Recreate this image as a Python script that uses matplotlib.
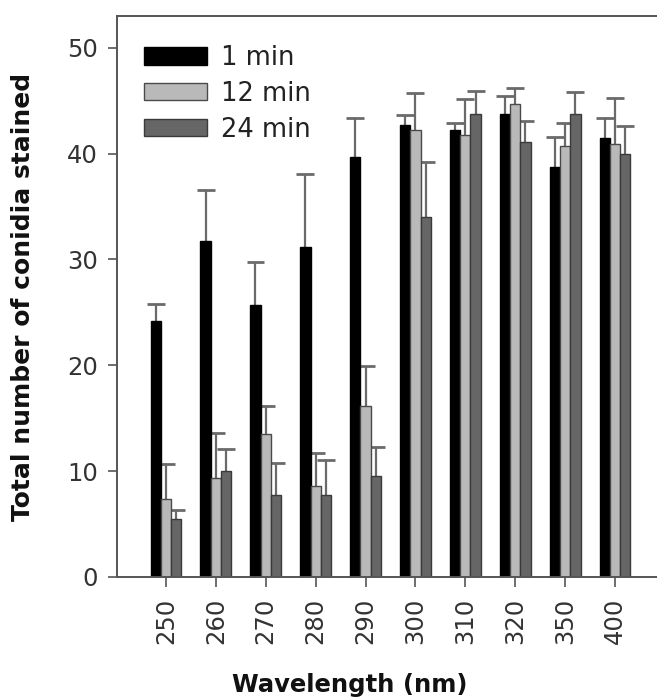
import matplotlib
matplotlib.use("Agg")
import matplotlib.pyplot as plt
import numpy as np

wavelengths = ["250", "260", "270", "280", "290", "300", "310", "320", "350", "400"]
series_names = ["1 min", "12 min", "24 min"]
min1 = [24.2, 31.7, 25.7, 31.2, 39.7, 42.7, 42.2, 43.7, 38.7, 41.5]
min1_err = [1.6, 4.9, 4.1, 6.9, 3.7, 0.9, 0.7, 1.7, 2.9, 1.9]
min12 = [7.4, 9.4, 13.5, 8.6, 16.2, 42.2, 41.8, 44.7, 40.7, 40.9]
min12_err = [3.3, 4.2, 2.7, 3.1, 3.7, 3.5, 3.4, 1.5, 2.2, 4.4]
min24 = [5.5, 10.0, 7.75, 7.75, 9.5, 34.0, 43.7, 41.1, 43.7, 40.0]
min24_err = [0.8, 2.1, 3.05, 3.35, 2.8, 5.2, 2.2, 2.0, 2.1, 2.6]

fig = plt.figure(figsize=(6.57, 7.0), dpi=100)
ax = fig.add_axes([117/657, 1-577/700, 1-117/657, (577-16)/700])

x = np.arange(len(wavelengths))
w = 0.205
cap = 0.36
face = ["#000000", "#b9b9b9", "#666666"]
edge = ["#000000", "#4a4a4a", "#3a3a3a"]
vals = [min1, min12, min24]
errs = [min1_err, min12_err, min24_err]
for i, (v, e) in enumerate(zip(vals, errs)):
    pos = x + (i - 1) * w
    v = np.array(v)
    e = np.array(e)
    ax.bar(pos, v, width=w, color=face[i], edgecolor=edge[i], linewidth=1.0,
           label=series_names[i], zorder=2)
    ax.vlines(pos, v, v + e, colors="#6a6a6a", linewidth=1.6, zorder=1)
    ax.hlines(v + e, pos - cap / 2, pos + cap / 2, colors="#6a6a6a",
              linewidth=2.0, zorder=1)

ax.set_xlim(-0.98, 9.84)
ax.set_ylim(0, 53)
ax.set_yticks([0, 10, 20, 30, 40, 50])
ax.set_xticks(x)
ax.set_xticklabels(wavelengths, rotation=90)

for s in ["left", "top", "bottom"]:
    ax.spines[s].set_color("#555555")
    ax.spines[s].set_linewidth(1.4)
ax.spines["right"].set_visible(False)
ax.tick_params(axis="both", colors="#555555", labelcolor="#333333", labelsize=17.5,
               width=1.2, direction="out")
ax.tick_params(axis="x", length=7, pad=8)
ax.tick_params(axis="y", length=6.5, pad=7)

ax.set_ylabel("Total number of conidia stained", fontsize=18, fontweight="bold",
              color="#111111")
ax.yaxis.set_label_coords(-(117 - 23) / 540, 0.5, transform=ax.transAxes)
ax.yaxis.label.set_va("center")
ax.set_xlabel("Wavelength (nm)", fontsize=17.5, fontweight="bold", color="#111111")
ax.xaxis.set_label_coords((350 - 117) / 540, -(685 - 577) / 561, transform=ax.transAxes)
ax.xaxis.label.set_va("center")

leg = ax.legend(loc="upper left", bbox_to_anchor=(27/540, 1-29/561), frameon=False,
                fontsize=18.5, handlelength=2.45, handleheight=0.66, handletextpad=0.55,
                labelspacing=0.38, borderaxespad=0, borderpad=0)
for t in leg.get_texts():
    t.set_color("#222222")

fig.savefig("out.png", dpi=100)
